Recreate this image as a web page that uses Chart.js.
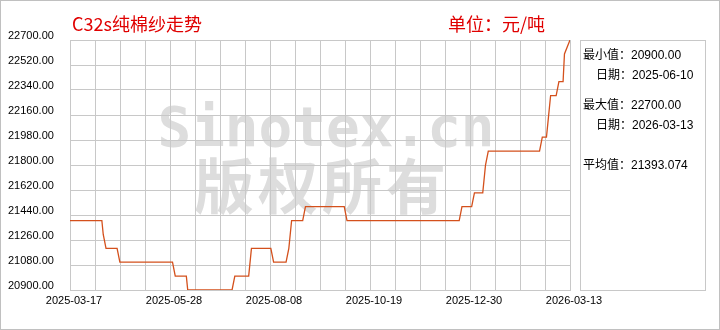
<!DOCTYPE html>
<html>
<head>
<meta charset="utf-8">
<script src="https://cdn.jsdelivr.net/npm/chart.js@4.4.1/dist/chart.umd.min.js"></script>
<style>
  html, body { margin: 0; padding: 0; background: #fff; }
</style>
</head>
<body>
<canvas id="chart" width="720" height="330"></canvas>
<script>
// price change points (linear between them)
const dates = [
  '2025-03-17', '2025-04-09', '2025-04-10', '2025-04-12', '2025-04-20', '2025-04-22',
  '2025-05-30', '2025-06-01', '2025-06-09', '2025-06-10', '2025-07-12', '2025-07-14',
  '2025-07-24', '2025-07-26', '2025-08-09', '2025-08-11', '2025-08-20', '2025-08-22',
  '2025-08-24', '2025-09-01', '2025-09-03', '2025-10-01', '2025-10-03', '2025-12-23',
  '2025-12-25', '2026-01-01', '2026-01-03', '2026-01-09', '2026-01-11', '2026-01-13',
  '2026-02-19', '2026-02-21', '2026-02-24', '2026-02-25', '2026-02-27', '2026-03-03',
  '2026-03-05', '2026-03-08', '2026-03-09', '2026-03-13'
];
const prices = [
  21400, 21400, 21300, 21200, 21200, 21100,
  21100, 21000, 21000, 20900, 20900, 21000,
  21000, 21200, 21200, 21100, 21100, 21200,
  21400, 21400, 21500, 21500, 21400, 21400,
  21500, 21500, 21600, 21600, 21800, 21900,
  21900, 22000, 22000, 22100, 22300, 22300,
  22400, 22400, 22600, 22700
];
const xLabels = ['2025-03-17', '2025-05-28', '2025-08-08', '2025-10-19', '2025-12-30', '2026-03-13'];
const yMin = 20900, yMax = 22700, yStep = 180;
const statNames = ['最小值：', '日期：', '最大值：', '日期：', '平均值：'];
const statValues = ['20900.00', '2025-06-10', '22700.00', '2026-03-13', '21393.074'];

function dayOf(s) {
  const p = s.split('-').map(Number);
  return Date.UTC(p[0], p[1] - 1, p[2]) / 86400000;
}
const day0 = dayOf(dates[0]);
const dayEnd = dayOf(xLabels[xLabels.length - 1]) - day0;
const points = dates.map((d, i) => ({ x: dayOf(d) - day0, y: prices[i] }));

const gridColor = '#c8c8c8';
const cjk = '"Liberation Sans", "Noto Sans CJK SC", sans-serif';

const decor = {
  id: 'decor',
  beforeDraw(chart) {
    const ctx = chart.ctx;
    ctx.save();
    ctx.fillStyle = '#fff';
    ctx.fillRect(0, 0, 720, 330);
    // watermark
    ctx.fillStyle = '#dddddd';
    ctx.textAlign = 'center';
    ctx.textBaseline = 'middle';
    ctx.font = 'bold 56px "DejaVu Sans Mono", monospace';
    ctx.fillText('Sinotex.cn', 326, 131);
    ctx.font = '600 60px "Noto Sans CJK SC", sans-serif';
    ctx.letterSpacing = '4px';
    ctx.fillText('版权所有', 322, 186);
    ctx.restore();
  },
  afterDraw(chart) {
    const ctx = chart.ctx;
    ctx.save();
    // outer frame
    ctx.strokeStyle = '#c0c0c0';
    ctx.lineWidth = 1;
    ctx.strokeRect(0.5, 0.5, 719, 329);
    // title and unit
    ctx.fillStyle = '#e00000';
    ctx.textBaseline = 'middle';
    ctx.textAlign = 'left';
    ctx.font = '18px "Noto Sans CJK SC", sans-serif';
    ctx.fillText('C32s纯棉纱走势', 72, 24);
    ctx.fillText('单位：元/吨', 448, 24);
    // stats panel
    ctx.strokeStyle = gridColor;
    ctx.strokeRect(580.5, 40.5, 125, 250);
    ctx.fillStyle = '#000';
    ctx.font = '12px ' + cjk;
    const ys = [56, 76, 106, 126, 166];
    statNames.forEach((name, i) => {
      const x = name.length > 3 ? 583 : 596;
      ctx.fillText(name + statValues[i], x, ys[i]);
    });
    ctx.restore();
  }
};

new Chart(document.getElementById('chart'), {
  type: 'line',
  data: {
    datasets: [{
      data: points,
      borderColor: '#d4501c',
      borderWidth: 1.3,
      pointRadius: 0,
      tension: 0,
      fill: false
    }]
  },
  options: {
    responsive: false,
    animation: false,
    layout: { padding: { left: 8, top: 40, right: 150, bottom: 0 } },
    plugins: { legend: { display: false }, tooltip: { enabled: false } },
    scales: {
      x: {
        type: 'linear',
        min: 0,
        max: dayEnd,
        afterFit: s => { s.height = 40; },
        afterBuildTicks: s => {
          s.ticks = [];
          for (let i = 0; i <= 20; i++) s.ticks.push({ value: i * dayEnd / 20 });
        },
        grid: { color: gridColor, drawTicks: false },
        border: { color: gridColor },
        ticks: {
          autoSkip: false,
          maxRotation: 0,
          padding: 4,
          labelOffset: 4,
          color: '#000',
          font: { family: 'Liberation Sans', size: 11 },
          callback: (v, i) => (i % 4 === 0 ? xLabels[i / 4] : '')
        }
      },
      y: {
        min: yMin,
        max: yMax,
        afterFit: s => { s.width = 62; },
        grid: { color: gridColor, drawTicks: false },
        border: { color: gridColor },
        ticks: {
          stepSize: yStep,
          crossAlign: 'far',
          labelOffset: -4,
          color: '#000',
          font: { family: 'Liberation Sans', size: 11 },
          callback: v => v.toFixed(2)
        }
      }
    }
  },
  plugins: [decor]
});
</script>
</body>
</html>
